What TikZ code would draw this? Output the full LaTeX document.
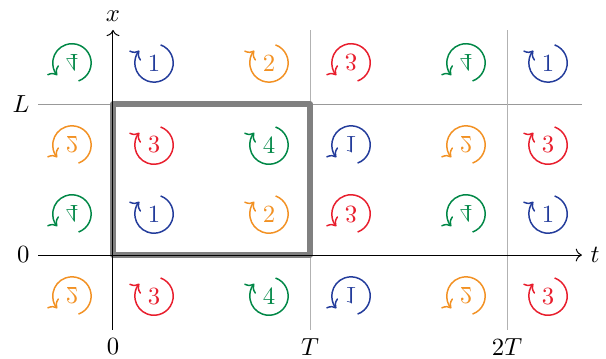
\documentclass[tikz,border=0pt]{standalone}
\usepackage{xcolor}
\usepackage{graphicx}
\usepackage{tikz}
\usetikzlibrary{arrows.meta}

\definecolor{symblue}{RGB}{35,60,155}
\definecolor{symorange}{RGB}{242,145,35}
\definecolor{symred}{RGB}{232,30,45}
\definecolor{symgreen}{RGB}{0,135,70}

\tikzset{
  pics/rotsym/.style n args={3}{code={
    \begin{scope}[yscale=#3]
      \draw[semithick,color=#1,->] (70:0.273) arc[start angle=70,end angle=-220,radius=0.273];
    \end{scope}
    \node[text=#1] (-num) at (0,0) {\scalebox{1}[#3]{#2}};
  }}
}

\begin{document}
\begin{tikzpicture}[scale=0.7,>=To,line join=round]
  \useasboundingbox (-2.294,-2.091) rectangle (10.01,5.178);
  \coordinate (O) at (0.000,0.000);
  \coordinate (TL) at (-1.520,0.000);
  \coordinate (TR) at (9.520,0.000);
  \coordinate (XB) at (0.000,-1.520);
  \coordinate (XT) at (0.000,4.570);
  \coordinate (LL) at (-1.520,3.066);
  \coordinate (LR) at (9.520,3.066);
  \coordinate (P1B) at (4.000,-1.520);
  \coordinate (P1T) at (4.000,4.570);
  \coordinate (P2B) at (8.000,-1.520);
  \coordinate (P2T) at (8.000,4.570);
  \coordinate (C) at (4.000,3.066);
  \draw[gray!80] (LL) -- (LR);
  \draw[gray!60] (P1B) -- (P1T);
  \draw[gray!60] (P2B) -- (P2T);
  \draw[line width=2.4pt,gray] (O) rectangle (C);
  \draw[->] (TL) -- (TR);
  \draw[->] (XB) -- (XT);
  \node[right] (tlab) at (TR) {$t$};
  \node[above] (xlab) at (XT) {$x$};
  \node[left] (zlab) at (TL) {$0$};
  \node[left] (llab) at (LL) {$L$};
  \node[below] (t0lab) at (XB) {$0$};
  \node[below] (t1lab) at (P1B) {$T$};
  \node[below] (t2lab) at (P2B) {$2T$};
  % row x = L + d
  \pic (a0) at (-0.833,3.900) {rotsym={symgreen}{4}{-1}};
  \pic (a1) at (0.833,3.900) {rotsym={symblue}{1}{1}};
  \pic (a2) at (3.167,3.900) {rotsym={symorange}{2}{1}};
  \pic (a3) at (4.833,3.900) {rotsym={symred}{3}{-1}};
  \pic (a4) at (7.167,3.900) {rotsym={symgreen}{4}{-1}};
  \pic (a5) at (8.833,3.900) {rotsym={symblue}{1}{1}};
  % row x = L - d
  \pic (b0) at (-0.833,2.233) {rotsym={symorange}{2}{-1}};
  \pic (b1) at (0.833,2.233) {rotsym={symred}{3}{1}};
  \pic (b2) at (3.167,2.233) {rotsym={symgreen}{4}{1}};
  \pic (b3) at (4.833,2.233) {rotsym={symblue}{1}{-1}};
  \pic (b4) at (7.167,2.233) {rotsym={symorange}{2}{-1}};
  \pic (b5) at (8.833,2.233) {rotsym={symred}{3}{1}};
  % row x = d
  \pic (c0) at (-0.833,0.833) {rotsym={symgreen}{4}{-1}};
  \pic (c1) at (0.833,0.833) {rotsym={symblue}{1}{1}};
  \pic (c2) at (3.167,0.833) {rotsym={symorange}{2}{1}};
  \pic (c3) at (4.833,0.833) {rotsym={symred}{3}{-1}};
  \pic (c4) at (7.167,0.833) {rotsym={symgreen}{4}{-1}};
  \pic (c5) at (8.833,0.833) {rotsym={symblue}{1}{1}};
  % row x = -d
  \pic (d0) at (-0.833,-0.833) {rotsym={symorange}{2}{-1}};
  \pic (d1) at (0.833,-0.833) {rotsym={symred}{3}{1}};
  \pic (d2) at (3.167,-0.833) {rotsym={symgreen}{4}{1}};
  \pic (d3) at (4.833,-0.833) {rotsym={symblue}{1}{-1}};
  \pic (d4) at (7.167,-0.833) {rotsym={symorange}{2}{-1}};
  \pic (d5) at (8.833,-0.833) {rotsym={symred}{3}{1}};
\end{tikzpicture}
\end{document}
